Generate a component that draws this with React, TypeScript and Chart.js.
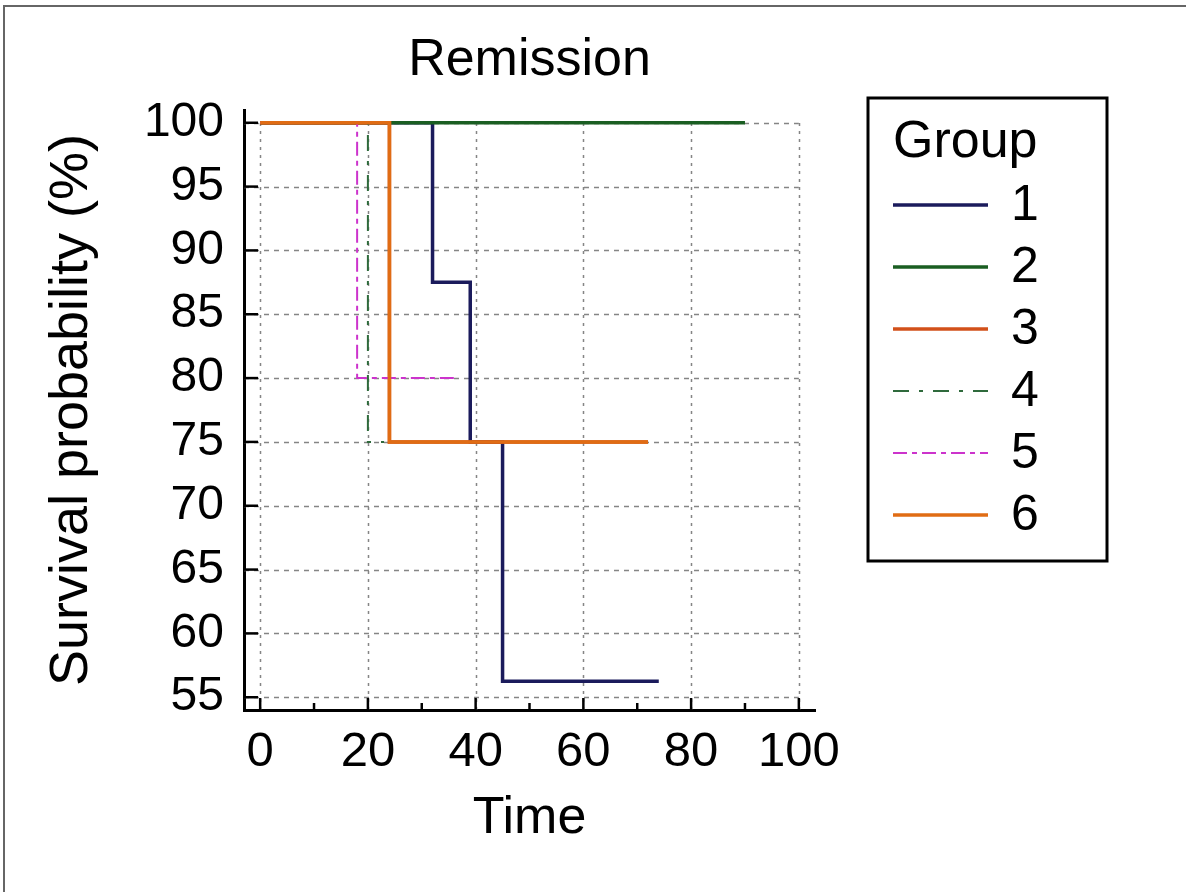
import React, { useEffect, useRef } from "react";
import { Chart, registerables } from "chart.js";

Chart.register(...registerables);

// ---------- data ----------
const groupLabels = ["1", "2", "3", "4", "5", "6"];

const g1Time = [0, 32, 39, 45, 74];
const g1Surv = [100, 87.5, 75, 56.25, 56.25];

const g2Time = [0, 90];
const g2Surv = [100, 100];

const g3Time = [0, 24, 72];
const g3Surv = [100, 75, 75];

const g4Time = [0, 20, 23];
const g4Surv = [100, 75, 75];

const g5Time = [0, 18, 36];
const g5Surv = [100, 80, 80];

const g6Time = [0, 24, 72];
const g6Surv = [100, 75, 75];

const xTickValues = [0, 20, 40, 60, 80, 100];
const xMinorTickValues = [10, 30, 50, 70, 90];
const yTickValues = [55, 60, 65, 70, 75, 80, 85, 90, 95, 100];

// ---------- styles ----------
const groupColors = ["#1b1b5c", "#1a5e22", "#d2501a", "#2f6a3c", "#cc33cc", "#e06c14"];
const groupDashes: number[][] = [[], [], [], [16, 10, 4, 10], [14, 5, 5, 5], []];
const groupWidths = [3.5, 3.5, 3.5, 2, 2, 3.5];

const FONT = "'Liberation Sans', Arial, Helvetica, sans-serif";

const times = [g1Time, g2Time, g3Time, g4Time, g5Time, g6Time];
const survs = [g1Surv, g2Surv, g3Surv, g4Surv, g5Surv, g6Surv];

const kmPlugin = {
  id: "kmDecor",
  beforeDatasetsDraw(chart: any) {
    const { ctx, chartArea } = chart;
    const x = chart.scales.x;
    const y = chart.scales.y;
    const topY = y.getPixelForValue(yTickValues[yTickValues.length - 1]);
    const rightX = x.getPixelForValue(xTickValues[xTickValues.length - 1]);
    ctx.save();
    ctx.strokeStyle = "#858585";
    ctx.lineWidth = 1.5;
    ctx.setLineDash([5, 5]);
    yTickValues.forEach((v) => {
      const py = Math.round(y.getPixelForValue(v)) + 0.5;
      ctx.beginPath();
      ctx.moveTo(chartArea.left, py);
      ctx.lineTo(rightX, py);
      ctx.stroke();
    });
    ctx.setLineDash([3, 5]);
    xTickValues.forEach((v) => {
      const px = Math.round(x.getPixelForValue(v)) + 0.5;
      ctx.beginPath();
      ctx.moveTo(px, chartArea.bottom);
      ctx.lineTo(px, topY);
      ctx.stroke();
    });
    ctx.restore();
  },
  afterDatasetsDraw(chart: any) {
    const { ctx, chartArea } = chart;
    const x = chart.scales.x;
    const y = chart.scales.y;
    ctx.save();
    ctx.strokeStyle = "#000";
    ctx.lineWidth = 2.5;
    ctx.setLineDash([]);
    yTickValues.forEach((v) => {
      const py = y.getPixelForValue(v);
      ctx.beginPath();
      ctx.moveTo(chartArea.left, py);
      ctx.lineTo(chartArea.left + 14, py);
      ctx.stroke();
    });
    xTickValues.forEach((v) => {
      const px = x.getPixelForValue(v);
      ctx.beginPath();
      ctx.moveTo(px, chartArea.bottom);
      ctx.lineTo(px, chartArea.bottom - 12);
      ctx.stroke();
    });
    xMinorTickValues.forEach((v) => {
      const px = x.getPixelForValue(v);
      ctx.beginPath();
      ctx.moveTo(px, chartArea.bottom);
      ctx.lineTo(px, chartArea.bottom - 7);
      ctx.stroke();
    });
    ctx.restore();
  },
  afterDraw(chart: any) {
    const { ctx } = chart;
    ctx.save();
    // legend box
    ctx.strokeStyle = "#000";
    ctx.lineWidth = 3;
    ctx.setLineDash([]);
    ctx.strokeRect(868, 98, 239, 463);
    ctx.fillStyle = "#000";
    ctx.textBaseline = "middle";
    ctx.textAlign = "left";
    ctx.font = `52px ${FONT}`;
    ctx.fillText("Group", 893, 143);
    chart.data.datasets.forEach((ds: any, i: number) => {
      const ly = 205 + i * 62;
      ctx.save();
      ctx.strokeStyle = ds.borderColor;
      ctx.lineWidth = ds.borderWidth;
      ctx.setLineDash(ds.borderDash || []);
      ctx.beginPath();
      ctx.moveTo(893, ly);
      ctx.lineTo(988, ly);
      ctx.stroke();
      ctx.restore();
      ctx.font = `50px ${FONT}`;
      ctx.fillStyle = "#000";
      ctx.fillText(ds.label, 1011, ly + 1);
    });
    ctx.restore();
  },
};

export default function App() {
  const ref = useRef<HTMLCanvasElement>(null);

  useEffect(() => {
    const datasets = groupLabels.map((label, i) => ({
      label,
      data: times[i].map((t, j) => ({ x: t, y: survs[i][j] })),
      borderColor: groupColors[i],
      backgroundColor: groupColors[i],
      borderWidth: groupWidths[i],
      borderDash: groupDashes[i],
      pointRadius: 0,
      stepped: "before" as const,
      fill: false,
      tension: 0,
      order: groupLabels.length - i,
    }));

    const chart = new Chart(ref.current!, {
      type: "line",
      data: { datasets },
      plugins: [kmPlugin],
      options: {
        responsive: false,
        animation: false,
        devicePixelRatio: 1,
        layout: { padding: { left: 0, right: 371, top: 0, bottom: 0 } },
        plugins: {
          legend: { display: false },
          tooltip: { enabled: false },
          title: {
            display: true,
            text: "Remission",
            color: "#000",
            fullSize: false,
            font: { family: FONT, size: 52, weight: "normal" },
            padding: { top: 29, bottom: 18.6 },
          },
        },
        scales: {
          x: {
            type: "linear",
            position: "bottom",
            min: -3,
            max: 103,
            grid: { display: false, drawTicks: false },
            border: { display: true, color: "#000", width: 3 },
            ticks: {
              color: "#000",
              padding: 13,
              font: { family: FONT, size: 49 },
            },
            afterBuildTicks: (s: any) => {
              s.ticks = xTickValues.map((v) => ({ value: v }));
            },
            afterFit: (s: any) => {
              s.height = 182;
            },
            title: {
              display: true,
              text: "Time",
              color: "#000",
              font: { family: FONT, size: 52 },
              padding: { top: 0, bottom: 42 },
            },
          },
          y: {
            type: "linear",
            position: "left",
            min: 54,
            max: 101,
            grid: { display: false, drawTicks: false },
            border: { display: true, color: "#000", width: 3 },
            ticks: {
              color: "#000",
              padding: 20,
              font: { family: FONT, size: 48 },
            },
            afterBuildTicks: (s: any) => {
              s.ticks = yTickValues.map((v) => ({ value: v }));
            },
            afterFit: (s: any) => {
              s.width = 244;
            },
            title: {
              display: true,
              text: "Survival probability (%)",
              color: "#000",
              font: { family: FONT, size: 54 },
              padding: { top: 40, bottom: 0 },
            },
          },
        },
      },
    } as any);

    return () => chart.destroy();
  }, []);

  return (
    <div
      style={{
        position: "absolute",
        left: 0,
        top: 0,
        width: 1186,
        height: 892,
        background: "#fff",
        overflow: "hidden",
      }}
    >
      <div
        style={{
          position: "absolute",
          left: 3,
          top: 5,
          right: 0,
          bottom: 0,
          borderTop: "2px solid #666",
          borderLeft: "2px solid #666",
        }}
      />
      <canvas
        ref={ref}
        width={1186}
        height={892}
        style={{ position: "absolute", left: 0, top: 0, width: 1186, height: 892 }}
      />
    </div>
  );
}
